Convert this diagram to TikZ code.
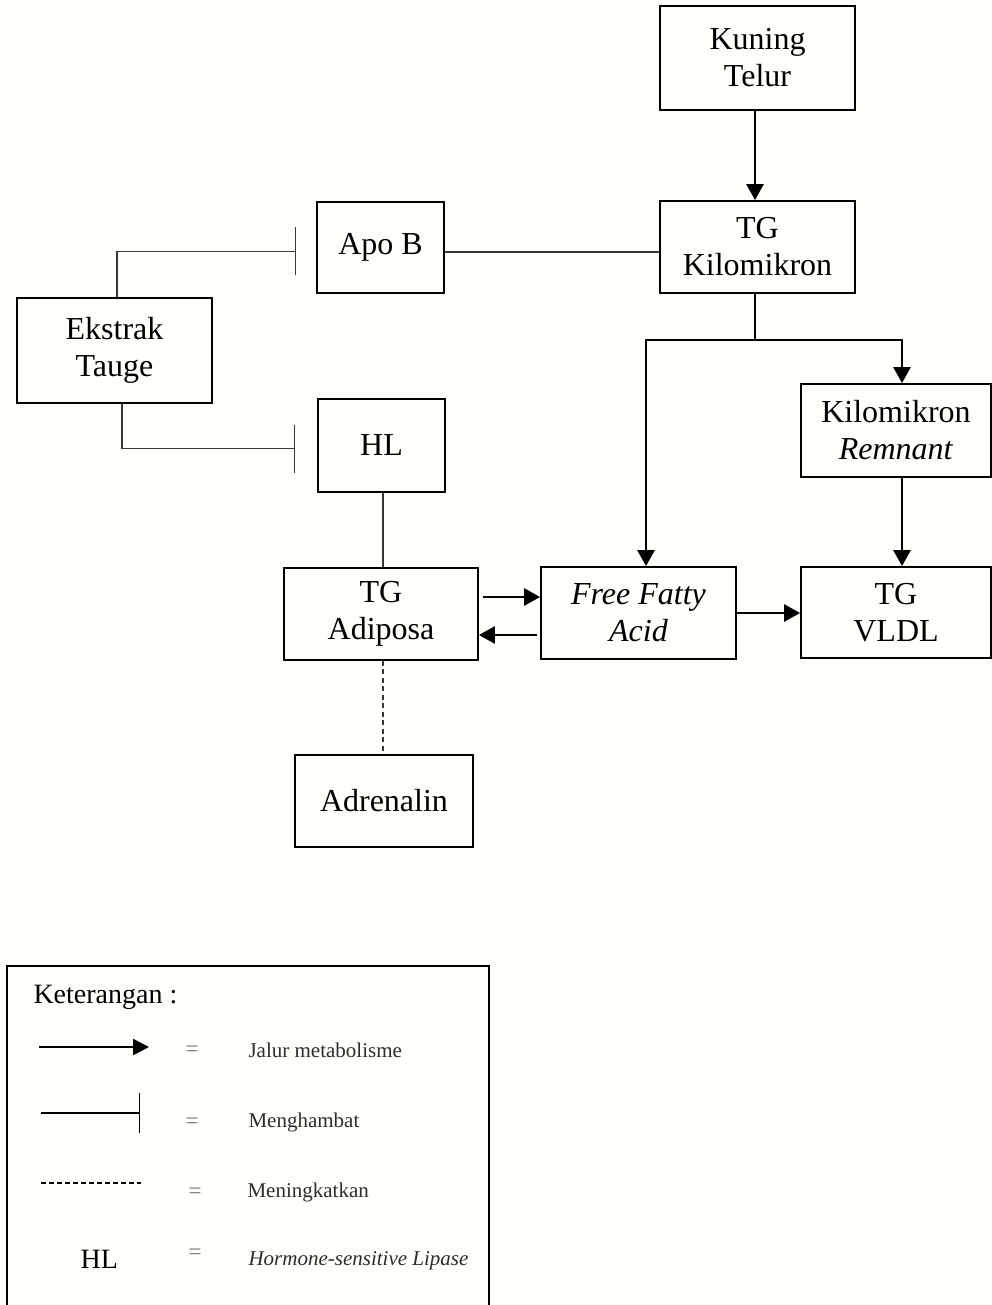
\documentclass[tikz,border=0pt]{standalone}
\usepackage{fontspec}
\setmainfont{Liberation Serif}
\usetikzlibrary{arrows.meta,calc}
\definecolor{paper}{RGB}{254,254,250}
\definecolor{thinline}{RGB}{55,55,55}
\definecolor{legendtext}{RGB}{45,45,45}
\definecolor{eqgray}{RGB}{120,120,120}

\begin{document}
\begin{tikzpicture}[x=1pt,y=-1pt,
  box/.style={draw=black,line width=1.8pt,align=center,inner sep=0pt,
    font=\fontsize{32}{37}\selectfont},
  flow/.style={line width=2.6pt,-{Triangle[length=16pt,width=17pt]}},
  inhib/.style={draw=thinline,line width=1.3pt,-{Bar[width=48pt]}},
  link/.style={draw=thinline,line width=1.3pt},
  raise/.style={draw=thinline,line width=1.3pt,dash pattern=on 5pt off 3.5pt},
  keyfont/.style={font=\fontsize{21}{24}\selectfont,text=legendtext},
  eqsign/.style={anchor=base,font=\fontsize{23}{24}\selectfont,text=eqgray}]

% page
\fill[paper] (0,0) rectangle (992,1305);
\useasboundingbox (0,0) rectangle (992,1305);

% boxes
\node[box,minimum width=195pt,minimum height=104pt] (kt)  at (757.5,58)  {Kuning\\Telur};
\node[box,minimum width=195pt,minimum height=92pt]  (tgk) at (757.5,247) {TG\\Kilomikron};
\node[box,minimum width=127pt,minimum height=91pt]  (apo) at (380.5,247.5) {Apo B};
\node[box,minimum width=195pt,minimum height=105pt] (ekt) at (114.5,350.5) {Ekstrak\\Tauge};
\node[box,minimum width=127pt,minimum height=93pt]  (hl)  at (381.5,445.5) {HL};
\node[box,minimum width=190pt,minimum height=93pt]  (rem) at (896,430.5) {Kilomikron\\\textit{Remnant}};
\node[box,minimum width=194pt,minimum height=92pt]  (adi) at (381,614) {TG\\Adiposa};
\node[box,minimum width=195pt,minimum height=92pt,
      font=\fontsize{32}{37}\selectfont\itshape]     (ffa) at (638.5,613) {Free Fatty\\Acid};
\node[box,minimum width=190pt,minimum height=91pt]  (vldl) at (896,612.5) {TG\\VLDL};
\node[box,minimum width=178pt,minimum height=92pt]  (adr) at (384,801) {Adrenalin};

% metabolic pathways
\draw[flow] ([xshift=-2.5pt]kt.south) -- ([xshift=-2.5pt]tgk.north);
\coordinate (split) at ($(tgk.south)+(-2.5,46)$);
\draw[line width=2.6pt] ([xshift=-2.5pt]tgk.south) -- (split);
\draw[flow] (split) -| ([xshift=7.5pt]ffa.north);
\draw[flow] (split) -| ([xshift=6pt]rem.north);
\draw[flow] ([xshift=6pt]rem.south) -- ([xshift=6pt]vldl.north);
\draw[flow] (ffa.east) -- (ffa.east -| vldl.west);
\draw[flow] ([xshift=4pt,yshift=17pt]adi.east) -- ([yshift=17pt]adi.east -| ffa.west);
\draw[flow] ([xshift=-3pt,yshift=-22pt]ffa.west) -- ([yshift=-22pt]ffa.west -| adi.east);

% plain links
\draw[link] ([yshift=-4.5pt]apo.east) -- ([yshift=-4.5pt]apo.east -| tgk.west);
\draw[link] ([xshift=1.5pt]hl.south) -- ([xshift=1.5pt]hl.south |- adi.north);
\draw[raise] ([xshift=2pt]adi.south) -- ([xshift=2pt]adi.south |- adr.north);

% inhibition by the sprout extract
\draw[inhib] ([xshift=2.5pt]ekt.north) |- ([xshift=-20pt,yshift=-4pt]apo.west);
\draw[inhib] ([xshift=7.5pt]ekt.south) |- ([xshift=-22pt,yshift=-3pt]hl.west);

% legend
\draw[line width=1.8pt] (7,1310) -- (7,966) -- (489,966) -- (489,1310);
\node[anchor=base west,font=\fontsize{28}{32}\selectfont] (ket) at (30,1003) {Keterangan :};

\coordinate (k1a) at (39,1047);  \coordinate (k1b) at (149,1047);
\draw[line width=2.6pt,-{Triangle[length=16pt,width=16pt]}] (k1a) -- (k1b);
\node[eqsign] (eq1) at (192,1056) {=};
\node[keyfont,anchor=base west] (t1) at (245,1057) {Jalur metabolisme};

\coordinate (k2a) at (41,1113);  \coordinate (k2b) at (140,1113);
\draw[line width=1.3pt,-{Bar[width=40pt]}] (k2a) -- (k2b);
\node[eqsign] (eq2) at (192,1128) {=};
\node[keyfont,anchor=base west] (t2) at (245,1127) {Menghambat};

\coordinate (k3a) at (41,1183);  \coordinate (k3b) at (141,1183);
\draw[line width=1.2pt,dash pattern=on 5pt off 3pt] (k3a) -- (k3b);
\node[eqsign] (eq3) at (195,1198) {=};
\node[keyfont,anchor=base west] (t3) at (244,1197) {Meningkatkan};

\node[anchor=base west,font=\fontsize{28}{32}\selectfont] (khl) at (77,1268) {HL};
\node[eqsign] (eq4) at (195,1259) {=};
\node[keyfont,anchor=base west,font=\fontsize{21}{24}\selectfont\itshape] (t4) at (245,1265) {Hormone-sensitive Lipase};
\end{tikzpicture}
\end{document}
